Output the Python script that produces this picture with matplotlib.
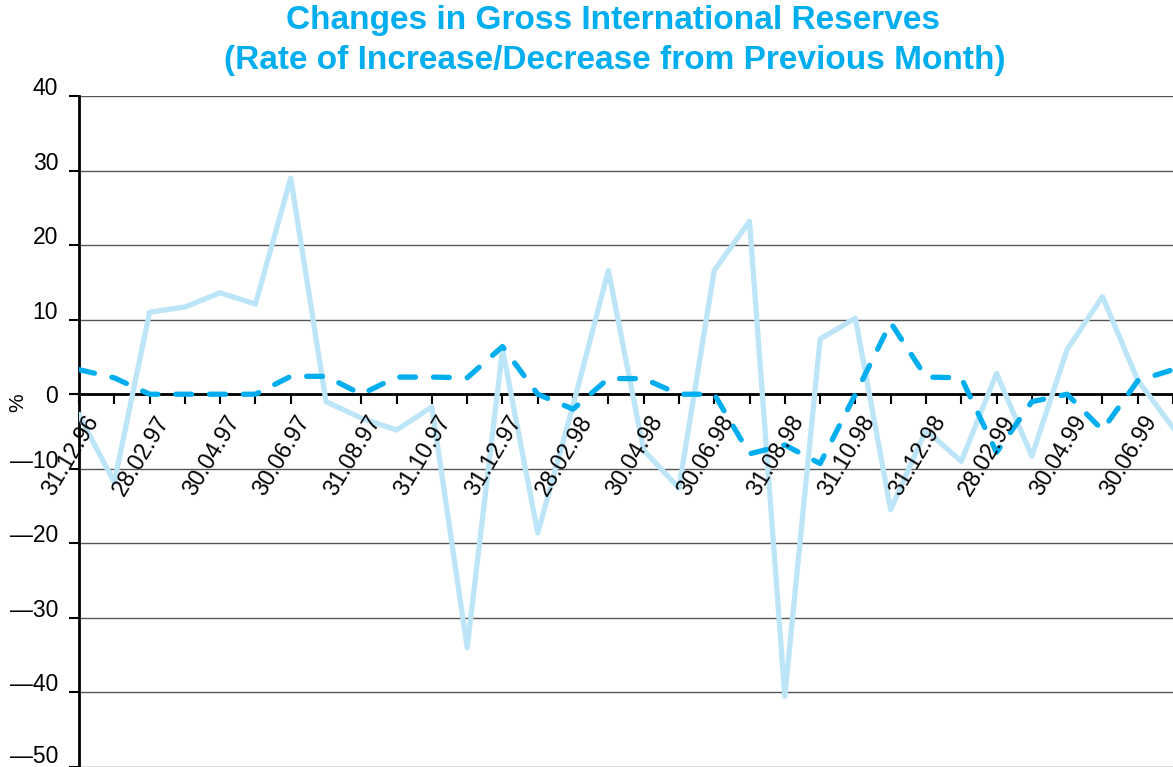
import matplotlib
matplotlib.use("Agg")
import matplotlib.pyplot as plt
import matplotlib.transforms as mtransforms
import numpy as np

months = ["31.12.96", "31.01.97", "28.02.97", "31.03.97", "30.04.97", "31.05.97",
          "30.06.97", "31.07.97", "31.08.97", "30.09.97", "31.10.97", "30.11.97",
          "31.12.97", "31.01.98", "28.02.98", "31.03.98", "30.04.98", "31.05.98",
          "30.06.98", "31.07.98", "31.08.98", "30.09.98", "31.10.98", "30.11.98",
          "31.12.98", "31.01.99", "28.02.99", "31.03.99", "30.04.99", "31.05.99",
          "30.06.99", "31.07.99"]

# solid light line
gross = [-2.8, -11.8, 11.0, 11.7, 13.6, 12.1, 29.0, -1.0, -3.2, -4.8, -1.7, -34.0,
         6.0, -18.6, -1.5, 16.6, -7.5, -12.6, 16.6, 23.2, -40.5, 7.4, 10.2, -15.5,
         -4.8, -9.0, 2.8, -8.3, 6.0, 13.1, 1.9, -4.5]
# dashed line
dashed = [3.3, 2.2, 0.0, 0.0, 0.0, 0.0, 2.4, 2.4, 0.0, 2.3, 2.3, 2.2,
          6.4, 0.0, -2.0, 2.1, 2.1, 0.0, 0.0, -8.0, -6.8, -9.3, 0.0, 9.6,
          2.3, 2.2, -7.8, -1.0, 0.0, -4.8, 1.8, 3.3]

yticks = [40, 30, 20, 10, 0, -10, -20, -30, -40, -50]

plt.rcParams['font.family'] = ['Liberation Sans', 'DejaVu Sans']
blue = "#00AEEF"
light = "#BDE5F8"

fig = plt.figure(figsize=(11.73, 7.67), dpi=100)
ax = fig.add_axes([79/1173, 0.0, 1 - 79/1173, (767 - 96)/767])

x = np.arange(len(months))
ax.plot(x, gross, color=light, lw=3.8, zorder=3)
ax.plot(x, dashed, color=blue, lw=3.8, dashes=(3.0, 3.4), dash_capstyle='round',
        zorder=4)

ax.set_xlim(0, len(months) - 1)
ax.set_ylim(-50, 40)

for s in ['top', 'right']:
    ax.spines[s].set_visible(False)
ax.spines['left'].set_linewidth(2)
ax.spines['bottom'].set_position(('data', 0))
ax.spines['bottom'].set_linewidth(2)
ax.spines['bottom'].set_zorder(2)

ax.set_yticks(yticks)
ax.set_yticklabels([str(v).replace('-', '\u2014') for v in yticks], fontsize=16.5)
ax.tick_params(axis='y', direction='out', length=7, width=1.5, pad=8)
for lab, v in zip(ax.get_yticklabels(), yticks):
    if v != 0:
        up = 13 if v == -50 else 10
        lab.set_transform(lab.get_transform() +
                          mtransforms.ScaledTranslation(0, up/100, fig.dpi_scale_trans))
ax.yaxis.grid(True, color='#555555', lw=1.0)
ax.set_axisbelow(True)

ax.set_xticks(x)
ax.set_xticklabels([])
ax.tick_params(axis='x', direction='out', length=7, width=1.5)
off = mtransforms.ScaledTranslation(14/100, -23/100, fig.dpi_scale_trans)
for i in range(0, len(months), 2):
    ax.text(i, 0, months[i], rotation=59, rotation_mode='anchor', ha='right',
            va='center', fontsize=16.5, transform=ax.transData + off, zorder=5)

fig.text(18/1173, 1 - 403/767, '%', rotation=90, fontsize=15, ha='center', va='center')

fig.text(613/1173, 1 - 20/767, 'Changes in Gross International Reserves',
         color=blue, fontsize=24, fontweight='bold', ha='center', va='center')
fig.text(615/1173, 1 - 61/767, '(Rate of Increase/Decrease from Previous Month)',
         color=blue, fontsize=24, fontweight='bold', ha='center', va='center')

fig.savefig('out.png', dpi=100)
